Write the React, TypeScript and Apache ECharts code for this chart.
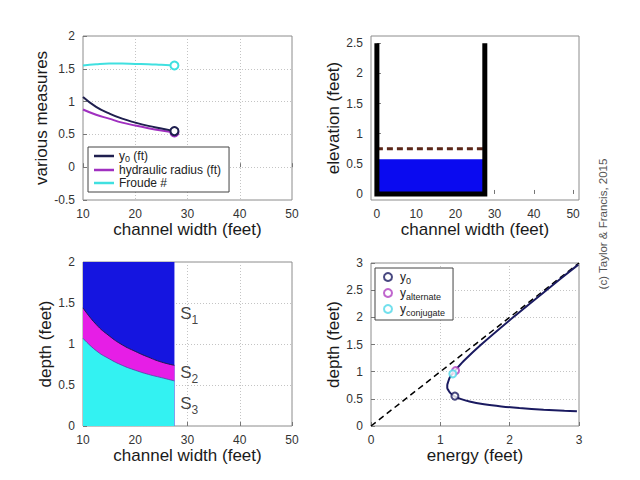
import React, { useEffect, useRef } from "react";
import * as echarts from "echarts";

// ---- data ----
const widths = [10, 12.5, 15, 17.5, 20, 22.5, 25, 27.5];
const normalDepth = [1.07, 0.92, 0.82, 0.74, 0.68, 0.63, 0.59, 0.55];
const hydraulicRadius = [0.88, 0.8, 0.74, 0.68, 0.635, 0.595, 0.56, 0.53];
const froude = [1.55, 1.57, 1.58, 1.58, 1.575, 1.57, 1.56, 1.55];
const criticalDepth = [1.44, 1.24, 1.1, 0.99, 0.91, 0.84, 0.78, 0.74];

const channelWidth = 27.5;
const wallHeight = 2.5;
const waterDepth = 0.575;
const criticalLevel = 0.75;
const zoneTop = 2;

const curveDepth = [0.27, 0.28, 0.3, 0.33, 0.36, 0.4, 0.45, 0.5, 0.55, 0.6, 0.65, 0.7, 0.75, 0.8, 0.9, 1.0, 1.2, 1.5, 2.0, 2.5, 2.97];
const curveEnergy = [2.97, 2.79, 2.49, 2.14, 1.88, 1.63, 1.42, 1.29, 1.2, 1.15, 1.12, 1.1, 1.1, 1.11, 1.14, 1.2, 1.34, 1.59, 2.05, 2.53, 2.99];
const pointY0 = [1.21, 0.55];
const pointAlternate = [1.22, 1.02];
const pointConjugate = [1.18, 0.96];

const zoneLabels = [
  { sub: "1", x: 28.6, y: 1.37 },
  { sub: "2", x: 28.6, y: 0.65 },
  { sub: "3", x: 28.6, y: 0.27 },
];

const FONT = "Liberation Sans, Arial, sans-serif";

function axisBase(grid: boolean, extra: any) {
  return {
    axisLine: { show: false },
    axisTick: { show: true, inside: true, length: 4, lineStyle: { color: "#777" } },
    axisLabel: { color: "#333", fontSize: 12, fontFamily: FONT },
    splitLine: { show: grid, lineStyle: { color: "#c4c4c4", type: [1, 2], width: 1 } },
    nameLocation: "middle",
    nameTextStyle: { fontSize: 17, color: "#1a1a1a", fontFamily: FONT, fontWeight: "normal" },
    ...extra,
  };
}

const withEndMarker = (xs: number[], ys: number[], color: string) =>
  xs.map((x, i) =>
    i === xs.length - 1
      ? { value: [x, ys[i]], symbol: "emptyCircle", symbolSize: 8, itemStyle: { color, borderWidth: 2 } }
      : { value: [x, ys[i]], symbol: "none" }
  );

export default function App() {
  const ref = useRef<HTMLDivElement>(null);
  useEffect(() => {
    if (!ref.current) return;
    const chart = echarts.init(ref.current, null, { renderer: "svg" });
    const gridStyle = { show: true, borderColor: "#8c8c8c", borderWidth: 1, backgroundColor: "transparent" };
    const subRich = {
      n: { fontSize: 12, lineHeight: 14, verticalAlign: "middle", fontFamily: FONT, color: "#222" },
      s: { fontSize: 9, lineHeight: 14, verticalAlign: "bottom", fontFamily: FONT, color: "#222" },
    };
    const lblStyle = { color: "#333", fontSize: 12, fontFamily: FONT };
    const tickStyle = { show: true, inside: true, length: 4, lineStyle: { color: "#777" } };
    const option: any = {
      animation: false,
      backgroundColor: "#fff",
      grid: [
        { left: 83, top: 36, width: 209, height: 164, ...gridStyle },
        { left: 371, top: 36, width: 208, height: 164, ...gridStyle },
        { left: 83, top: 262, width: 209, height: 164, ...gridStyle },
        { left: 371, top: 263, width: 208, height: 163, ...gridStyle },
      ],
      xAxis: [
        axisBase(true, { gridIndex: 0, type: "value", min: 10, max: 50, interval: 10, name: "channel width (feet)", nameGap: 21 }),
        axisBase(false, {
          gridIndex: 1, type: "value", min: -1.5, max: 51.5, name: "channel width (feet)", nameGap: 21,
          axisLabel: { ...lblStyle, customValues: [0, 10, 20, 30, 40, 50] },
          axisTick: { ...tickStyle, customValues: [0, 10, 20, 30, 40, 50] },
        }),
        axisBase(true, { gridIndex: 2, type: "value", min: 10, max: 50, interval: 10, name: "channel width (feet)", nameGap: 21 }),
        axisBase(true, { gridIndex: 3, type: "value", min: 0, max: 3, interval: 1, name: "energy (feet)", nameGap: 21 }),
      ],
      yAxis: [
        axisBase(true, { gridIndex: 0, type: "value", min: -0.5, max: 2, interval: 0.5, name: "various measures", nameGap: 21 }),
        axisBase(false, {
          gridIndex: 1, type: "value", min: -0.1, max: 2.62, name: "elevation (feet)", nameGap: 18,
          axisLabel: { ...lblStyle, customValues: [0, 0.5, 1, 1.5, 2, 2.5] },
          axisTick: { ...tickStyle, customValues: [0, 0.5, 1, 1.5, 2, 2.5] },
        }),
        axisBase(true, { gridIndex: 2, type: "value", min: 0, max: 2, interval: 0.5, name: "depth (feet)", nameGap: 19 }),
        axisBase(true, { gridIndex: 3, type: "value", min: 0, max: 3, interval: 0.5, name: "depth (feet)", nameGap: 19 }),
      ],
      legend: [
        {
          left: 88, top: 147, orient: "vertical", itemGap: 1, itemWidth: 20, itemHeight: 2.5,
          padding: [3, 8, 3, 6], borderColor: "#444", borderWidth: 1, backgroundColor: "#fff",
          data: [
            { name: "y0 (ft)", icon: "rect" },
            { name: "hydraulic radius (ft)", icon: "rect" },
            { name: "Froude #", icon: "rect" },
          ],
          formatter: (name: string) => (name === "y0 (ft)" ? "{n|y}{s|0}{n| (ft)}" : "{n|" + name + "}"),
          textStyle: { rich: subRich },
          selectedMode: false,
        },
        {
          left: 375, top: 268, orient: "vertical", itemGap: 2, itemWidth: 14, itemHeight: 8,
          padding: [3, 8, 3, 8], borderColor: "#444", borderWidth: 1, backgroundColor: "#fff",
          data: ["y_0", "y_alternate", "y_conjugate"],
          formatter: (name: string) => "{n|y}{s|" + name.slice(2) + "}",
          textStyle: { rich: { n: { ...subRich.n, lineHeight: 16 }, s: { ...subRich.s, fontSize: 9, lineHeight: 16 } } },
          selectedMode: false,
        },
      ],
      graphic: [
        {
          type: "text", x: 603, y: 224, rotation: Math.PI / 2,
          style: { text: "(c) Taylor & Francis, 2015", fill: "#555", fontSize: 11.5, fontFamily: FONT, align: "center", verticalAlign: "middle" },
        },
      ],
      series: [
        // --- top left ---
        {
          name: "y0 (ft)", type: "line", xAxisIndex: 0, yAxisIndex: 0, symbol: "none", showSymbol: true,
          color: "#1f1f4f", lineStyle: { color: "#1f1f4f", width: 2 }, smooth: true, z: 4,
          data: withEndMarker(widths, normalDepth, "#1f1f4f"),
        },
        {
          name: "hydraulic radius (ft)", type: "line", xAxisIndex: 0, yAxisIndex: 0, symbol: "none", showSymbol: true,
          color: "#a030c0", lineStyle: { color: "#a030c0", width: 2 }, smooth: true, z: 3,
          data: withEndMarker(widths, hydraulicRadius, "#a030c0"),
        },
        {
          name: "Froude #", type: "line", xAxisIndex: 0, yAxisIndex: 0, symbol: "none", showSymbol: true,
          color: "#40e0e0", lineStyle: { color: "#40e0e0", width: 2 }, smooth: true, z: 3,
          data: withEndMarker(widths, froude, "#40e0e0"),
        },
        // --- top right ---
        {
          type: "line", xAxisIndex: 1, yAxisIndex: 1, symbol: "none", z: 2,
          lineStyle: { width: 0 }, areaStyle: { color: "#0a0af0", opacity: 1, origin: 0 },
          data: [[0, waterDepth], [channelWidth, waterDepth]],
        },
        {
          type: "line", xAxisIndex: 1, yAxisIndex: 1, symbol: "none", z: 3,
          lineStyle: { color: "#5a2618", width: 3, type: [6, 4] },
          data: [[0, criticalLevel], [channelWidth, criticalLevel]],
        },
        {
          type: "line", xAxisIndex: 1, yAxisIndex: 1, symbol: "none", z: 4,
          lineStyle: { color: "#000", width: 5, join: "miter", cap: "butt" },
          data: [[0, wallHeight], [0, 0], [channelWidth, 0], [channelWidth, wallHeight]],
        },
        // --- bottom left ---
        {
          type: "line", xAxisIndex: 2, yAxisIndex: 2, symbol: "none", z: 2,
          lineStyle: { width: 0 }, areaStyle: { color: "#1515e0", opacity: 1, origin: "start" },
          data: [[widths[0], zoneTop], [widths[widths.length - 1], zoneTop]],
        },
        {
          type: "line", xAxisIndex: 2, yAxisIndex: 2, symbol: "none", z: 3, smooth: true,
          lineStyle: { color: "#1a1a50", width: 1 }, areaStyle: { color: "#e61ee6", opacity: 1, origin: "start" },
          data: widths.map((w, i) => [w, criticalDepth[i]]),
        },
        {
          type: "line", xAxisIndex: 2, yAxisIndex: 2, symbol: "none", z: 4, smooth: true,
          lineStyle: { color: "#5a3aa0", width: 0.8 }, areaStyle: { color: "#33f2f2", opacity: 1, origin: "start" },
          data: widths.map((w, i) => [w, normalDepth[i]]),
        },
        {
          type: "scatter", xAxisIndex: 2, yAxisIndex: 2, symbolSize: 0, z: 5, silent: true,
          data: zoneLabels.map((l) => ({ value: [l.x, l.y], sub: l.sub })),
          label: {
            show: true, position: "right", distance: 0,
            formatter: (p: any) => "{a|S}{b|" + p.data.sub + "}",
            rich: {
              a: { fontSize: 17, lineHeight: 24, verticalAlign: "middle", color: "#111", fontFamily: FONT },
              b: { fontSize: 12, lineHeight: 24, verticalAlign: "bottom", color: "#111", fontFamily: FONT },
            },
          },
        },
        // --- bottom right ---
        {
          type: "line", xAxisIndex: 3, yAxisIndex: 3, symbol: "none", z: 2,
          lineStyle: { color: "#000", width: 1.5, type: [6, 4] },
          data: [[0, 0], [3, 3]],
        },
        {
          type: "line", xAxisIndex: 3, yAxisIndex: 3, symbol: "none", z: 3, smooth: 0.3,
          lineStyle: { color: "#1a1a60", width: 2 },
          data: curveEnergy.map((e, i) => [e, curveDepth[i]]),
        },
        {
          name: "y_0", type: "scatter", xAxisIndex: 3, yAxisIndex: 3, symbol: "emptyCircle", symbolSize: 7, z: 5,
          itemStyle: { color: "#1a1a60", borderWidth: 2 }, data: [pointY0],
        },
        {
          name: "y_alternate", type: "scatter", xAxisIndex: 3, yAxisIndex: 3, symbol: "emptyCircle", symbolSize: 7, z: 5,
          itemStyle: { color: "#b040c0", borderWidth: 2 }, data: [pointAlternate],
        },
        {
          name: "y_conjugate", type: "scatter", xAxisIndex: 3, yAxisIndex: 3, symbol: "emptyCircle", symbolSize: 7, z: 6,
          itemStyle: { color: "#50d8e8", borderWidth: 2 }, data: [pointConjugate],
        },
      ],
    };
    chart.setOption(option);
    return () => chart.dispose();
  }, []);
  return <div ref={ref} style={{ width: 640, height: 480, position: "absolute", left: 0, top: 0 }} />;
}
